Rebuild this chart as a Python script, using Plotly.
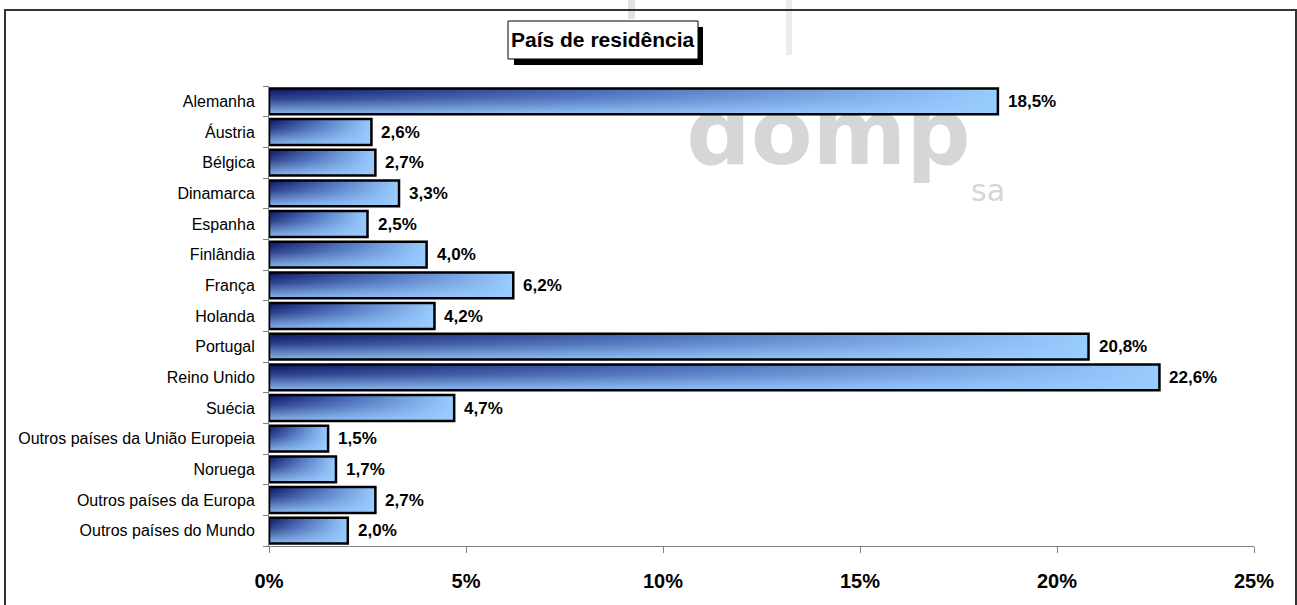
import plotly.graph_objects as go

countries = ["Alemanha", "Áustria", "Bélgica", "Dinamarca", "Espanha", "Finlândia",
             "França", "Holanda", "Portugal", "Reino Unido", "Suécia",
             "Outros países da União Europeia", "Noruega", "Outros países da Europa",
             "Outros países do Mundo"]
values = [18.5, 2.6, 2.7, 3.3, 2.5, 4.0, 6.2, 4.2, 20.8, 22.6, 4.7, 1.5, 1.7, 2.7, 2.0]
value_labels = [f"{v:.1f}%".replace(".", ",") for v in values]
x_ticks = [0, 5, 10, 15, 20, 25]
x_tick_labels = ["0%", "5%", "10%", "15%", "20%", "25%"]
title_text = "País de residência"

FONT = "Arial, Liberation Sans, sans-serif"
W, H = 1297, 605
L, R, T, B = 269, 43, 86, 59
pw, ph = W - L - R, H - T - B
HALF = 0.42


def px2x(px):
    return (px - L) / pw


def py2y(py):
    return (H - B - py) / ph


fig = go.Figure()

# decorative watermark "domp sa" (below the bars)
fig.add_trace(go.Scatter(x=[14.2], y=[1.31], mode="text", text=["domp"],
                         textfont=dict(family="DejaVu Sans", size=90, color="#d6d6d6", weight="bold"),
                         hoverinfo="skip", showlegend=False, cliponaxis=False))
fig.add_trace(go.Scatter(x=[18.25], y=[3.02], mode="text", text=["sa"],
                         textfont=dict(family="DejaVu Sans", size=30, color="#d6d6d6"),
                         hoverinfo="skip", showlegend=False, cliponaxis=False))

ox, oy = [], []
for i, v in enumerate(values):
    xs = [0, v, v, 0, 0]
    ys = [i - HALF, i - HALF, i + HALF, i + HALF, i - HALF]
    fig.add_trace(go.Scatter(
        x=xs, y=ys, fill="toself", mode="none",
        fillgradient=dict(type="horizontal",
                          colorscale=[[0, "#0a1464"], [0.45, "#4767b3"], [1, "#99ccff"]],
                          start=0, stop=v),
        hoverinfo="skip", showlegend=False))
    fig.add_trace(go.Scatter(
        x=xs, y=ys, fill="toself", mode="none",
        fillgradient=dict(type="vertical",
                          colorscale=[[0, "rgba(153,204,255,0)"], [0.4, "rgba(153,204,255,0.25)"],
                                      [1, "rgba(153,204,255,0.88)"]],
                          start=i - HALF, stop=i + HALF),
        hoverinfo="skip", showlegend=False))
    ox += xs + [None]
    oy += ys + [None]

fig.add_trace(go.Scatter(x=ox, y=oy, mode="lines", line=dict(color="black", width=2.5),
                         hoverinfo="skip", showlegend=False))

annotations = []
for i, (v, lab) in enumerate(zip(values, value_labels)):
    annotations.append(dict(x=v, y=i, xref="x", yref="y", text=lab, showarrow=False,
                            xanchor="left", yanchor="middle", xshift=8,
                            font=dict(family=FONT, size=17, color="black", weight="bold")))

annotations.append(dict(x=px2x(603), y=py2y(40), xref="paper", yref="paper", text=title_text,
                        showarrow=False, xanchor="center", yanchor="middle",
                        font=dict(family=FONT, size=21, color="black", weight="bold")))

shapes = [
    dict(type="rect", xref="paper", yref="paper", x0=px2x(628), x1=px2x(635), y0=py2y(19), y1=py2y(0),
         fillcolor="#e2e2e2", line=dict(width=0), layer="below"),
    dict(type="rect", xref="paper", yref="paper", x0=px2x(786), x1=px2x(792), y0=py2y(55), y1=py2y(0),
         fillcolor="#ececec", line=dict(width=0), layer="below"),
    dict(type="rect", xref="paper", yref="paper", x0=px2x(5), x1=px2x(1296), y0=py2y(608), y1=py2y(10),
         line=dict(color="#333333", width=2), fillcolor="rgba(0,0,0,0)"),
    dict(type="rect", xref="paper", yref="paper", x0=px2x(514), x1=px2x(703), y0=py2y(65), y1=py2y(27),
         line=dict(width=0), fillcolor="black"),
    dict(type="rect", xref="paper", yref="paper", x0=px2x(508), x1=px2x(698), y0=py2y(59), y1=py2y(21),
         line=dict(color="black", width=1), fillcolor="white"),
]

fig.update_layout(
    width=W, height=H,
    margin=dict(l=L, r=R, t=T, b=B, autoexpand=False),
    paper_bgcolor="white", plot_bgcolor="rgba(0,0,0,0)",
    showlegend=False,
    annotations=annotations, shapes=shapes,
    xaxis=dict(range=[0, 25], tickvals=x_ticks, ticktext=x_tick_labels,
               ticks="outside", ticklen=6, tickcolor="#808080", tickwidth=1,
               showline=True, linecolor="#808080", linewidth=1,
               showgrid=False, zeroline=False, ticklabelstandoff=11,
               tickfont=dict(family=FONT, size=20, color="black", weight="bold"),
               fixedrange=True),
    yaxis=dict(range=[14.5, -0.5], tickvals=list(range(len(countries))), ticktext=countries,
               ticks="", showline=True, linecolor="#808080", linewidth=1,
               showgrid=False, zeroline=False, ticklabelstandoff=10,
               minor=dict(tickvals=[k - 0.5 for k in range(len(countries) + 1)],
                          ticks="outside", ticklen=5, tickcolor="#808080", showgrid=False),
               tickfont=dict(family=FONT, size=16, color="black"),
               fixedrange=True),
)

fig.write_html("out.html", config={"displayModeBar": False},
               post_script="document.body.style.margin='0';document.body.style.overflow='hidden';")
